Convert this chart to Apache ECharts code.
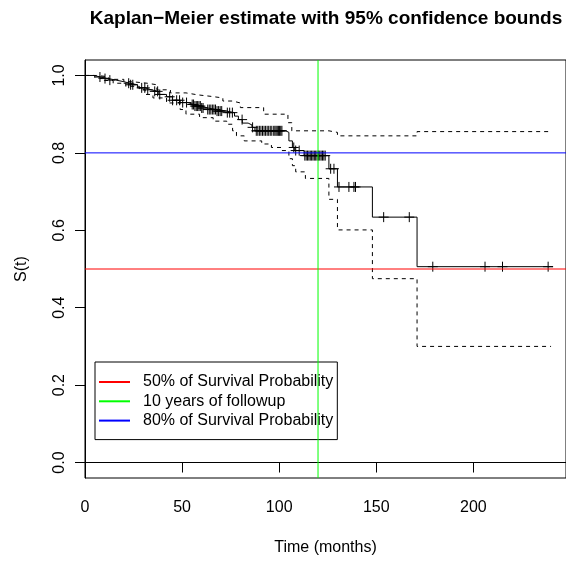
<!DOCTYPE html>
<html>
<head>
<meta charset="utf-8">
<script src="https://cdn.jsdelivr.net/npm/echarts@6/dist/echarts.min.js"></script>
<style>
  html, body { margin: 0; padding: 0; background: #fff; }
  #chart { width: 566px; height: 561px; }
</style>
</head>
<body>
<div id="chart"></div>
<script>
// Kaplan-Meier step estimate (time in months, survival probability)
const kmTime = [0, 4.5, 8, 12, 16, 20, 23, 27, 31, 34, 38, 42, 45, 49, 53, 56, 60, 63, 68, 73, 77, 79, 81, 84, 86, 87.5, 103.4, 105, 106.8, 108, 112.8, 125.6, 130, 148, 171, 241];
const kmSurv = [1, 0.996, 0.992, 0.988, 0.984, 0.98, 0.976, 0.968, 0.963, 0.959, 0.951, 0.945, 0.936, 0.93, 0.925, 0.921, 0.916, 0.912, 0.908, 0.904, 0.895, 0.886, 0.877, 0.872, 0.866, 0.857, 0.853, 0.831, 0.814, 0.806, 0.793, 0.759, 0.712, 0.634, 0.506, 0.506];

// 95% confidence bounds
const upperTime = [0, 6, 12, 20, 24, 32, 37, 44, 52, 58, 65, 71, 76, 80, 92, 104.5, 106.5, 125.6, 130, 171, 240];
const upperVal = [1, 0.997, 0.99, 0.984, 0.98, 0.976, 0.963, 0.955, 0.95, 0.946, 0.942, 0.934, 0.929, 0.917, 0.9, 0.878, 0.857, 0.853, 0.844, 0.855, 0.855];
const lowerTime = [0, 5, 10, 14.5, 21, 28, 31, 35, 42, 49, 52, 59, 66, 73, 76, 78, 82, 91, 96, 101, 105, 106.8, 108.5, 113.5, 125.6, 130, 148, 171, 240];
const lowerVal = [1, 0.993, 0.987, 0.98, 0.972, 0.963, 0.951, 0.942, 0.929, 0.912, 0.9, 0.891, 0.882, 0.874, 0.857, 0.844, 0.831, 0.823, 0.814, 0.806, 0.785, 0.767, 0.751, 0.734, 0.68, 0.601, 0.475, 0.3, 0.3];

// censored observations (months)
const censorTime = [7.7, 10.3, 12.8, 22.5, 23.5, 24.6, 29.2, 30.8, 32.3, 35.9, 37.4, 38.5, 43.6, 45.1, 47.2, 48.7, 50.3, 52.3,
  55.2, 55.9, 56.6, 57.3, 58.0, 58.7, 59.4, 60.1, 60.8, 63.2, 64.0, 64.8, 65.6, 66.4, 67.2, 68.0, 68.8, 69.6, 70.4,
  73.3, 74.5, 75.9, 80.9, 86.3, 88.2, 89.0, 89.8, 90.6, 91.4, 92.2, 93.0, 93.8, 94.6, 95.4, 96.2,
  97.2, 97.8, 98.4, 99.0, 99.6, 100.2, 100.8, 101.4, 107.5, 108.5, 110.3,
  113.2, 113.9, 114.6, 115.3, 116.0, 116.7, 117.4, 118.1, 118.8, 119.5, 120.2, 120.9, 121.6, 122.3, 123.0, 123.7,
  126.5, 128.2, 130.8, 135.9, 138.5, 139.3, 153.8, 167.0, 179.1, 206.0, 215.0, 238.5];

// reference lines
const survHalf = 0.5;
const followUpMonths = 120;
const surv80 = 0.8;

// axis ticks
const xTicks = [0, 50, 100, 150, 200];
const yTicks = [0, 0.2, 0.4, 0.6, 0.8, 1.0];

const legendNames = ['50% of Survival Probability', '10 years of followup', '80% of Survival Probability'];

const xMin = 0, xMax = 247.7;
const yMin = -0.04, yMax = 1.04;
const FONT = '"Liberation Sans", Arial, Helvetica, sans-serif';

function pairs(xs, ys) { return xs.map((x, i) => [x, ys[i]]); }
function survAt(t) {
  let s = 1;
  for (let i = 0; i < kmTime.length; i++) { if (kmTime[i] <= t) s = kmSurv[i]; }
  return s;
}

const chart = echarts.init(document.getElementById('chart'), null, { renderer: 'canvas' });

chart.setOption({
  animation: false,
  backgroundColor: '#fff',
  graphic: [{
    type: 'text', x: 326, y: 19,
    style: { text: 'Kaplan\u2212Meier estimate with 95% confidence bounds', font: 'bold 19px ' + FONT,
      fill: '#000', textAlign: 'center', textVerticalAlign: 'middle' }
  }],
  grid: { left: 85, top: 60, right: -2, bottom: 78, show: true, borderColor: '#000', borderWidth: 1, backgroundColor: 'transparent' },
  legend: {
    data: legendNames,
    orient: 'vertical', left: 95, top: 362,
    padding: [12, 4, 11, 4],
    itemWidth: 31, itemHeight: 2, itemGap: 3.3,
    icon: 'rect',
    backgroundColor: '#fff', borderColor: '#000', borderWidth: 1, borderRadius: 0,
    textStyle: { fontFamily: FONT, fontSize: 16, color: '#000', padding: [0, 0, 0, 8] },
    z: 4
  },
  xAxis: {
    type: 'value', min: xMin, max: xMax,
    name: 'Time (months)', nameLocation: 'middle', nameGap: 62,
    nameTextStyle: { fontFamily: FONT, fontSize: 16, color: '#000' },
    axisLine: { show: true, lineStyle: { color: '#000', width: 1 } },
    axisTick: { show: true, length: 10, lineStyle: { color: '#000' }, customValues: xTicks },
    axisLabel: { fontFamily: FONT, fontSize: 16, color: '#000', margin: 22, customValues: xTicks },
    splitLine: { show: false }
  },
  yAxis: {
    type: 'value', min: yMin, max: yMax,
    name: 'S(t)', nameLocation: 'middle', nameGap: 55, nameRotate: 90,
    nameTextStyle: { fontFamily: FONT, fontSize: 16, color: '#000' },
    axisLine: { show: true, lineStyle: { color: '#000', width: 1 } },
    axisTick: { show: true, length: 10, lineStyle: { color: '#000' }, customValues: yTicks },
    axisLabel: { fontFamily: FONT, fontSize: 16, color: '#000', margin: 17, rotate: 90,
      customValues: yTicks, formatter: v => v.toFixed(1) },
    splitLine: { show: false }
  },
  series: [
    {
      name: 'upper', type: 'line', step: 'end', showSymbol: false, silent: true,
      data: pairs(upperTime, upperVal),
      lineStyle: { color: '#000', width: 1, type: [4, 4] }, z: 2
    },
    {
      name: 'lower', type: 'line', step: 'end', showSymbol: false, silent: true,
      data: pairs(lowerTime, lowerVal),
      lineStyle: { color: '#000', width: 1, type: [4, 4] }, z: 2
    },
    {
      name: 'KM', type: 'line', step: 'end', showSymbol: false, silent: true,
      data: pairs(kmTime, kmSurv),
      lineStyle: { color: '#000', width: 1 }, z: 3
    },
    {
      name: 'censored', type: 'custom', silent: true, z: 3,
      data: censorTime.map(t => [t, survAt(t)]),
      renderItem: function (params, api) {
        const p = api.coord([api.value(0), api.value(1)]);
        const h = 5;
        return {
          type: 'group',
          children: [
            { type: 'line', shape: { x1: p[0] - h, y1: p[1], x2: p[0] + h, y2: p[1] }, style: { stroke: '#000', lineWidth: 1 } },
            { type: 'line', shape: { x1: p[0], y1: p[1] - h, x2: p[0], y2: p[1] + h }, style: { stroke: '#000', lineWidth: 1 } }
          ]
        };
      }
    },
    {
      name: legendNames[0], type: 'line', showSymbol: false, silent: true, color: '#ff0000',
      data: [[xMin, survHalf], [xMax, survHalf]],
      lineStyle: { color: '#ff0000', width: 1 }, z: 6
    },
    {
      name: legendNames[1], type: 'line', showSymbol: false, silent: true, color: '#00ff00',
      data: [[followUpMonths, yMin], [followUpMonths, yMax]],
      lineStyle: { color: '#00ff00', width: 1 }, z: 6
    },
    {
      name: legendNames[2], type: 'line', showSymbol: false, silent: true, color: '#0000ff',
      data: [[xMin, surv80], [xMax, surv80]],
      lineStyle: { color: '#0000ff', width: 1 }, z: 6
    }
  ]
});
</script>
</body>
</html>
